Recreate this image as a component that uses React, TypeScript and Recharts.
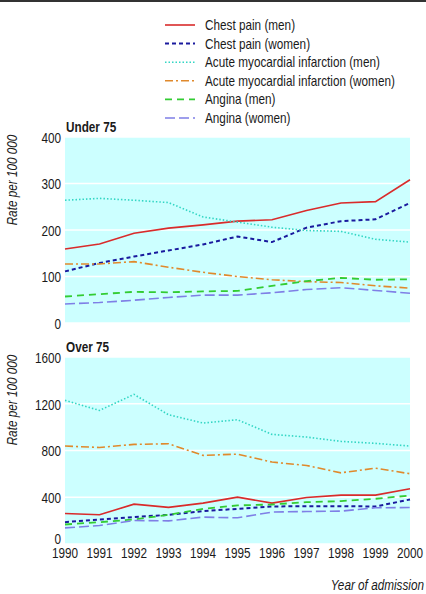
import { LineChart, Line, XAxis, YAxis, CartesianGrid } from "recharts";

const years = [1990, 1991, 1992, 1993, 1994, 1995, 1996, 1997, 1998, 1999, 2000];

// Under 75, rate per 100 000
const under75ChestPainMen = [159, 170, 193, 204, 211, 219, 222, 242, 258, 261, 308];
const under75ChestPainWomen = [111, 129, 143, 156, 169, 186, 174, 205, 219, 223, 258];
const under75AmiMen = [264, 268, 264, 259, 228, 217, 206, 199, 197, 180, 174];
const under75AmiWomen = [127, 127, 132, 120, 109, 100, 93, 89, 87, 80, 75];
const under75AnginaMen = [57, 62, 67, 66, 68, 69, 80, 90, 97, 93, 94];
const under75AnginaWomen = [41, 44, 49, 55, 60, 60, 65, 72, 76, 70, 64];

// Over 75, rate per 100 000
const over75ChestPainMen = [261, 250, 341, 313, 350, 401, 350, 398, 418, 418, 472];
const over75ChestPainWomen = [187, 210, 230, 250, 281, 301, 321, 324, 324, 321, 381];
const over75AmiMen = [1229, 1143, 1280, 1106, 1035, 1063, 938, 915, 878, 861, 838];
const over75AmiWomen = [838, 826, 852, 858, 758, 769, 701, 672, 609, 649, 601];
const over75AnginaMen = [167, 187, 210, 250, 301, 330, 338, 358, 367, 387, 415];
const over75AnginaWomen = [138, 158, 201, 198, 230, 224, 273, 278, 281, 310, 312];

const under75Ticks = [0, 100, 200, 300, 400];
const over75Ticks = [0, 400, 800, 1200, 1600];

const seriesNames = [
  "Chest pain (men)",
  "Chest pain (women)",
  "Acute myocardial infarction (men)",
  "Acute myocardial infarction (women)",
  "Angina (men)",
  "Angina (women)",
];

// no condensed face installed, so squeeze Liberation Sans a bit
const FONT = "'Liberation Sans', Arial, sans-serif";
const SQUEEZE = 0.84;
const INK = "#1a1a1a";

const seriesStyles = [
  { key: "chestMen", color: "#d92b2b", dash: undefined, width: 1.6 },
  { key: "chestWomen", color: "#1a1a9e", dash: "4 3", width: 2 },
  { key: "amiMen", color: "#33d6c4", dash: "1.5 2", width: 1.6 },
  { key: "amiWomen", color: "#e0892c", dash: "8 3 2 3", width: 1.6 },
  { key: "anginaMen", color: "#33cc33", dash: "7 5", width: 1.8 },
  { key: "anginaWomen", color: "#7f7fe6", dash: "10 4", width: 1.6 },
];

const buildRows = (cols: number[][]) =>
  years.map((year, i) => {
    const row: Record<string, number> = { year };
    seriesStyles.forEach((s, j) => {
      row[s.key] = cols[j][i];
    });
    return row;
  });

const under75Data = buildRows([
  under75ChestPainMen,
  under75ChestPainWomen,
  under75AmiMen,
  under75AmiWomen,
  under75AnginaMen,
  under75AnginaWomen,
]);

const over75Data = buildRows([
  over75ChestPainMen,
  over75ChestPainWomen,
  over75AmiMen,
  over75AmiWomen,
  over75AnginaMen,
  over75AnginaWomen,
]);

type TickProps = {
  x?: number;
  y?: number;
  payload?: { value: number };
};

const YTick = ({ x = 0, y = 0, payload, liftZero }: TickProps & { liftZero?: boolean }) => {
  const lift = liftZero && payload?.value === 0 ? -5 : 1;
  return (
    <text
      transform={`translate(${x},${y + lift}) scale(${SQUEEZE},1)`}
      textAnchor="end"
      dy="0.35em"
      fontSize={14}
      fontFamily={FONT}
      fill={INK}
    >
      {payload?.value}
    </text>
  );
};

const XTick = ({ x = 0, y = 0, payload }: TickProps) => (
  <text
    transform={`translate(${x},${y}) scale(${SQUEEZE},1)`}
    textAnchor="middle"
    dy="0.71em"
    fontSize={14}
    fontFamily={FONT}
    fill={INK}
  >
    {payload?.value}
  </text>
);

const lines = () =>
  seriesStyles.map((s) => (
    <Line
      key={s.key}
      type="linear"
      dataKey={s.key}
      stroke={s.color}
      strokeWidth={s.width}
      strokeDasharray={s.dash}
      dot={false}
      isAnimationActive={false}
    />
  ));

const Label = ({
  x,
  y,
  children,
  anchor = "start",
  bold,
  italic,
  rotate,
}: {
  x: number;
  y: number;
  children: string;
  anchor?: string;
  bold?: boolean;
  italic?: boolean;
  rotate?: boolean;
}) => (
  <text
    transform={`translate(${x},${y})${rotate ? " rotate(-90)" : ""} scale(${SQUEEZE},1)`}
    textAnchor={anchor}
    dy="0.35em"
    fontSize={14}
    fontWeight={bold ? "bold" : "normal"}
    fontStyle={italic ? "italic" : "normal"}
    fontFamily={FONT}
    fill={INK}
  >
    {children}
  </text>
);

export default function App() {
  return (
    <div
      style={{
        position: "fixed",
        left: 0,
        top: 0,
        width: 426,
        height: 594,
        background: "#fff",
        overflow: "hidden",
      }}
    >
      <div style={{ position: "absolute", left: 0, top: 0, width: 426, height: 2, background: "#333" }} />

      <div style={{ position: "absolute", left: 0, top: 0 }}>
        <LineChart
          width={426}
          height={340}
          data={under75Data}
          margin={{ top: 137, right: 16, bottom: 17, left: 0 }}
        >
          <CartesianGrid vertical={false} fill="#ccffff" stroke="#ffffff" strokeWidth={1.5} />
          <XAxis
            dataKey="year"
            type="number"
            domain={[1990, 2000]}
            ticks={years}
            interval={0}
            height={0}
            mirror
            axisLine={false}
            tickSize={4}
            tickLine={{ stroke: "#ffffff" }}
            tickFormatter={() => ""}
          />
          <YAxis
            domain={[0, 400]}
            ticks={under75Ticks}
            interval={0}
            width={65}
            axisLine={false}
            tickLine={false}
            tickSize={0}
            tickMargin={4}
            tick={<YTick />}
          />
          {lines()}
        </LineChart>
      </div>

      <div style={{ position: "absolute", left: 0, top: 340 }}>
        <LineChart
          width={426}
          height={254}
          data={over75Data}
          margin={{ top: 17, right: 16, bottom: 30, left: 0 }}
        >
          <CartesianGrid vertical={false} fill="#ccffff" stroke="#ffffff" strokeWidth={1.5} />
          <XAxis
            dataKey="year"
            type="number"
            domain={[1990, 2000]}
            ticks={years}
            interval={0}
            height={20}
            axisLine={false}
            tickLine={false}
            tickSize={0}
            tickMargin={4}
            tick={<XTick />}
          />
          <YAxis
            domain={[0, 1600]}
            ticks={over75Ticks}
            interval={0}
            width={65}
            axisLine={false}
            tickLine={false}
            tickSize={0}
            tickMargin={4}
            tick={<YTick liftZero />}
          />
          {lines()}
        </LineChart>
      </div>

      <svg
        width={426}
        height={594}
        style={{ position: "absolute", left: 0, top: 0, pointerEvents: "none" }}
      >
        {seriesStyles.map((s, i) => {
          const y = 25 + i * 18.6;
          return (
            <g key={s.key}>
              <line
                x1={165}
                x2={195}
                y1={y}
                y2={y}
                stroke={s.color}
                strokeWidth={s.width}
                strokeDasharray={s.dash}
              />
              <Label x={205} y={y}>
                {seriesNames[i]}
              </Label>
            </g>
          );
        })}
        <Label x={66} y={127} bold>
          Under 75
        </Label>
        <Label x={66} y={347} bold>
          Over 75
        </Label>
        <Label x={12} y={180} anchor="middle" italic rotate>
          Rate per 100 000
        </Label>
        <Label x={12} y={400} anchor="middle" italic rotate>
          Rate per 100 000
        </Label>
        <Label x={424} y={585} anchor="end" italic>
          Year of admission
        </Label>
      </svg>
    </div>
  );
}
